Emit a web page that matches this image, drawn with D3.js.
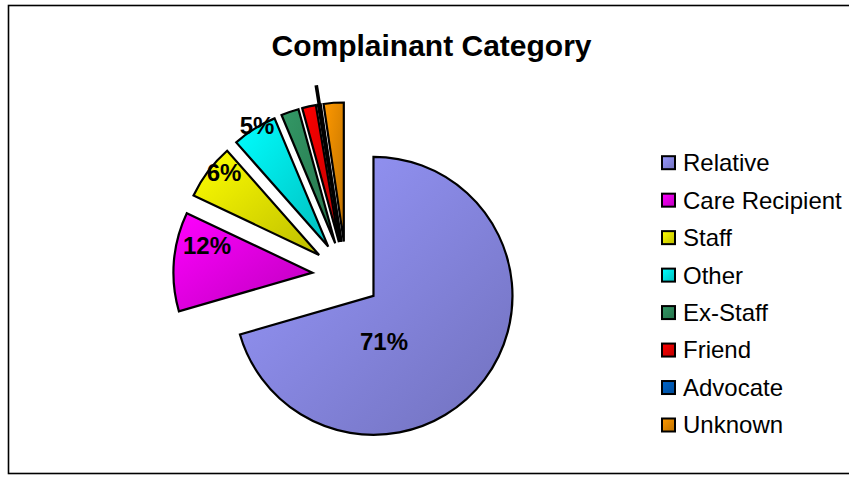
<!DOCTYPE html>
<html>
<head>
<meta charset="utf-8">
<script src="https://cdn.jsdelivr.net/npm/d3@7"></script>
<style>
  html, body { margin: 0; padding: 0; background: #fff; }
  svg { display: block; font-family: "Liberation Sans", Arial, sans-serif; }
</style>
</head>
<body>
<svg id="chart" width="849" height="477"></svg>
<script>
// ---- data ----
const title = "Complainant Category";
const categories = ["Relative", "Care Recipient", "Staff", "Other", "Ex-Staff", "Friend", "Advocate", "Unknown"];
const shares = [70.52, 11.52, 6.45, 5.2, 2.05, 1.6, 0.33, 2.33];
const colors = ["#9999FF", "#FF00FF", "#FFFF00", "#00FFFF", "#339966", "#FF0000", "#0066CC", "#FF9900"];

// ---- layout / style ----
const W = 849, H = 477;
const cx = 346.3, cy = 275.4, R = 139, explode = 34;
const labelMin = 5;                       // only slices >= 5% carry a label
const labelLayout = [                     // angle shift (deg) & radius fraction from slice apex
  {da: 40, rf: 0.334}, {da: 9.6, rf: 0.782}, {da: 3.9, rf: 0.904}, {da: 1.6, rf: 1.01}
];

const svg = d3.select("#chart");
const defs = svg.append("defs");

// gradients
colors.forEach((c, i) => {
  const g = defs.append("linearGradient").attr("id", "grad" + i)
    .attr("x1", 0).attr("y1", 0).attr("x2", 1).attr("y2", 1);
  const base = d3.rgb(c);
  const dark = d3.rgb(base.r * 0.74, base.g * 0.74, base.b * 0.74);
  g.append("stop").attr("offset", "0%").attr("stop-color", base.formatHex());
  g.append("stop").attr("offset", "100%").attr("stop-color", dark.formatHex());
});

// frame
svg.append("rect").attr("x", 8.5).attr("y", 5.5).attr("width", 900).attr("height", 468)
  .attr("fill", "#fff").attr("stroke", "#000").attr("stroke-width", 1.6);

// title
svg.append("text").attr("x", 431.5).attr("y", 56).attr("text-anchor", "middle")
  .attr("font-size", 30).attr("font-weight", "bold").attr("fill", "#000").text(title);

// pie
const total = d3.sum(shares);
const pie = d3.pie().sort(null).value(d => d);
const arcs = pie(shares);
const arcGen = d3.arc().innerRadius(0).outerRadius(R);
const pct = d3.format(".0%");
const deg = Math.PI / 180;

const slices = svg.append("g").attr("class", "slices");
arcs.forEach((a, i) => {
  const mid = (a.startAngle + a.endAngle) / 2;
  const ax = cx + explode * Math.sin(mid), ay = cy - explode * Math.cos(mid);
  const g = slices.append("g").attr("transform", `translate(${ax},${ay})`);
  g.append("path").attr("d", arcGen(a)).attr("fill", `url(#grad${i})`)
    .attr("stroke", "#000").attr("stroke-width", 2.2).attr("stroke-linejoin", "miter");
  if (a.endAngle - a.startAngle < 0.03) {
    // very thin slice: Excel draws its outline as a spike beyond the rim
    g.append("line").attr("x1", 0).attr("y1", 0)
      .attr("x2", R * 1.14 * Math.sin(mid)).attr("y2", -R * 1.14 * Math.cos(mid))
      .attr("stroke", "#000").attr("stroke-width", 3.6);
  }
});

// labels
const labels = svg.append("g").attr("class", "labels");
arcs.forEach((a, i) => {
  if (shares[i] < labelMin) return;
  const mid = (a.startAngle + a.endAngle) / 2;
  const ax = cx + explode * Math.sin(mid), ay = cy - explode * Math.cos(mid);
  const L = labelLayout[i];
  const ang = mid + L.da * deg;
  labels.append("text")
    .attr("x", ax + L.rf * R * Math.sin(ang))
    .attr("y", ay - L.rf * R * Math.cos(ang))
    .attr("text-anchor", "middle").attr("dominant-baseline", "central")
    .attr("font-size", 24).attr("font-weight", "bold").attr("fill", "#000")
    .text(pct(a.value / total));
});

// legend
const legendY = d3.scalePoint().domain(categories).range([162.7, 425]);
const legend = svg.append("g").attr("class", "legend");
categories.forEach((c, i) => {
  const y = legendY(c);
  legend.append("rect").attr("x", 662).attr("y", y - 6.5).attr("width", 13).attr("height", 13)
    .attr("fill", `url(#grad${i})`).attr("stroke", "#000").attr("stroke-width", 2);
  legend.append("text").attr("x", 683).attr("y", y + 8.4)
    .attr("font-size", 24).attr("fill", "#000").text(c);
});
</script>
</body>
</html>
